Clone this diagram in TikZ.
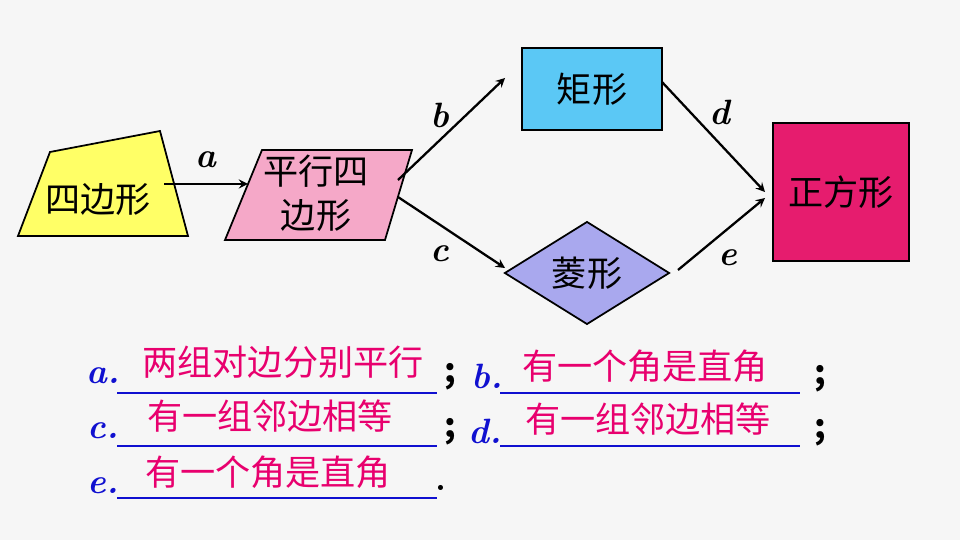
\documentclass[tikz,border=0pt]{standalone}
\usepackage{fontspec}
\usepackage{tikz}
\usetikzlibrary{shapes.geometric}
\newfontfamily\cjk{Noto Sans CJK SC}
\definecolor{rectblue}{HTML}{5BC8F5}
\definecolor{lavender}{HTML}{A9A8EE}
\definecolor{sqpink}{HTML}{E61C6E}
\definecolor{parapink}{HTML}{F5A8C8}
\definecolor{quadyellow}{HTML}{FFFF66}
\definecolor{answred}{HTML}{E8006E}
\definecolor{lblblue}{HTML}{1010D0}
\tikzset{
  shape txt/.style={font=\cjk\fontsize{20}{25}\selectfont, align=center},
  edge lbl/.style={font=\rmfamily\bfseries\itshape\fontsize{20}{22}\selectfont},
  arr/.style={->, >=stealth, line width=1.3pt},
  ans/.style={font=\cjk\fontsize{20}{22}\selectfont, text=answred},
  tag/.style={font=\rmfamily\bfseries\itshape\fontsize{20}{22}\selectfont, text=lblblue},
  semi/.style={font=\cjk\fontsize{19}{22}\selectfont\bfseries},
  uline/.style={lblblue, line width=1pt}
}
\begin{document}
\begin{tikzpicture}[x=0.02cm, y=-0.02cm]
            \useasboundingbox[fill=gray!7] (0,0) rectangle (960,540);

            % Shapes
            \draw[fill=quadyellow, line width=1pt] (50,152) -- (160,131) -- (188,236) -- (18,236) -- cycle;
            \node[shape txt] (Q) at (98,200) {四边形};
            \draw[fill=parapink, line width=1pt] (262,150) -- (412,150) -- (385,240) -- (225,240) -- cycle;
            \node[shape txt] (P) at (316,193) {平行四\\边形};
            \node[shape txt, draw, line width=1pt, fill=rectblue, minimum width=2.8cm, minimum height=1.64cm] (R) at (592,89) {矩形};
            \node[shape txt, draw, diamond, line width=1pt, fill=lavender, minimum width=3.3cm, minimum height=1.94cm, inner sep=0pt] (D) at (587,273) {菱形};
            \node[shape txt, draw, line width=1pt, fill=sqpink, minimum width=2.72cm, minimum height=2.76cm] (S) at (841,192) {正方形};

            % Connector ends
            \coordinate (qout) at (164,184);
            \coordinate (pin) at (248,184);
            \coordinate (pb) at (398,180);
            \coordinate (pc) at (398,197);
            \coordinate (rin) at (505,78);
            \coordinate (din) at (505,268);
            \coordinate (rout) at (662,82);
            \coordinate (dout) at (678,270);
            \coordinate (sin1) at (765,192);
            \coordinate (sin2) at (765,198);

            % Edges
            \draw[arr] (qout) -- (pin) node[edge lbl, midway, above=5pt] {a};
            \node[edge lbl] (lb) at (440,115) {b};
            \node[edge lbl] (lc) at (440,254) {c};
            \node[edge lbl] (ld) at (720,112) {d};
            \node[edge lbl] (le) at (728,258) {e};
            \draw[arr] (pb) -- (rin);
            \draw[arr] (pc) -- (din);
            \draw[arr] (rout) -- (sin1);
            \draw[arr] (dout) -- (sin2);

            % Answers
            \node[tag] (ta) at (103,376) {a.};
            \draw[uline] (117,393) -- (437,393);
            \node[ans] (aa) at (283,362) {两组对边分别平行};
            \node[semi] (sa) at (450,377) {;};
            \node[tag] (tb) at (487,376) {b.};
            \draw[uline] (500,393) -- (800,393);
            \node[ans] (ab) at (645,366) {有一个角是直角};
            \node[semi] (sb) at (820,379) {;};

            \node[tag] (tc) at (103,431) {c.};
            \draw[uline] (117,446) -- (437,446);
            \node[ans] (ac) at (270,416) {有一组邻边相等};
            \node[semi] (sc) at (450,432) {;};
            \node[tag] (td) at (485,431) {d.};
            \draw[uline] (500,446) -- (800,446);
            \node[ans] (ad) at (648,419) {有一组邻边相等};
            \node[semi] (sd) at (820,433) {;};

            \node[tag] (te) at (103,486) {e.};
            \draw[uline] (117,498) -- (437,498);
            \node[ans] (ae) at (268,472) {有一个角是直角};
            \node[font=\rmfamily\bfseries\fontsize{20}{22}\selectfont] (se) at (441,488) {.};
        \end{tikzpicture}
\end{document}
